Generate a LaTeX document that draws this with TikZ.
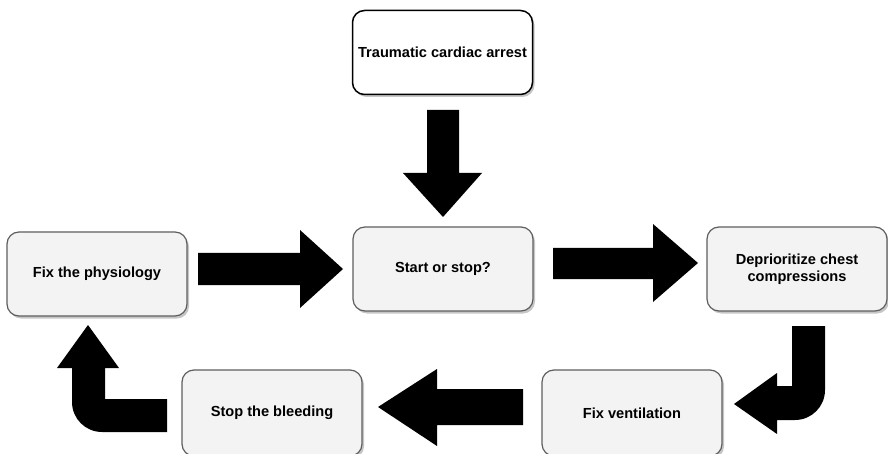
\documentclass[tikz,border=0pt]{standalone}
\usepackage{fontspec}
\setmainfont{Liberation Sans}
\usetikzlibrary{shadows}
\definecolor{boxfill}{HTML}{F3F3F3}
\definecolor{boxline}{HTML}{5E5E5E}
\begin{document}
\begin{tikzpicture}[x=1pt,y=-1pt,
  stepbox/.style={rectangle, rounded corners=12pt, draw=boxline, line width=1.2pt,
    fill=boxfill, minimum width=180pt, minimum height=84pt, align=center,
    font=\fontsize{14.6}{17}\selectfont\bfseries, text=black,
    drop shadow={shadow xshift=2pt, shadow yshift=-2.5pt, opacity=0.45, fill=gray}},
  topbox/.style={stepbox, fill=white, draw=black, line width=1.5pt},
  blockarrow/.style={fill=black, draw=none}]
\useasboundingbox (0,0) rectangle (888,454);
\node[topbox] (top) at (442.5,52.5) {Traumatic cardiac arrest};
\node[stepbox] (start) at (443,269) {Start or stop?};
\node[stepbox] (phys) at (97,274) {Fix the physiology};
\node[stepbox] (depri) at (797,269) {Deprioritize chest\\compressions};
\node[stepbox, minimum height=86pt] (vent) at (632,413) {Fix ventilation};
\node[stepbox, minimum height=86pt] (stop) at (272,413) {Stop the bleeding};
% down arrow
\fill[blockarrow] (427,110) -- (459,110) -- (459,173) -- (482,173) -- (443,217)
  -- (403,173) -- (427,173) -- cycle;
% physiology -> start
\fill[blockarrow] (198,253) -- (300,253) -- (300,230) -- (343,269) -- (300,308)
  -- (300,285) -- (198,285) -- cycle;
% start -> deprioritize
\fill[blockarrow] (553,248) -- (653,248) -- (653,224) -- (698,263) -- (653,302)
  -- (653,279) -- (553,279) -- cycle;
% ventilation -> bleeding
\fill[blockarrow] (523,389) -- (437,389) -- (437,369) -- (378,407) -- (437,446)
  -- (437,425) -- (523,425) -- cycle;
% bleeding -> physiology (bent)
\fill[blockarrow] (167,399) -- (167,432) -- (102,432)
  .. controls (85.4,432) and (72,418.6) .. (72,402) -- (72,368) -- (57,368)
  -- (88,325) -- (119,368) -- (105,368) -- (105,399) -- cycle;
% deprioritize -> ventilation (bent)
\fill[blockarrow] (792,326) -- (825,326) -- (825,390)
  .. controls (825,406.6) and (811.6,420) .. (795,420) -- (777,420) -- (777,434)
  -- (734,404) -- (777,373) -- (777,386) -- (792,386) -- cycle;
\end{tikzpicture}
\end{document}
